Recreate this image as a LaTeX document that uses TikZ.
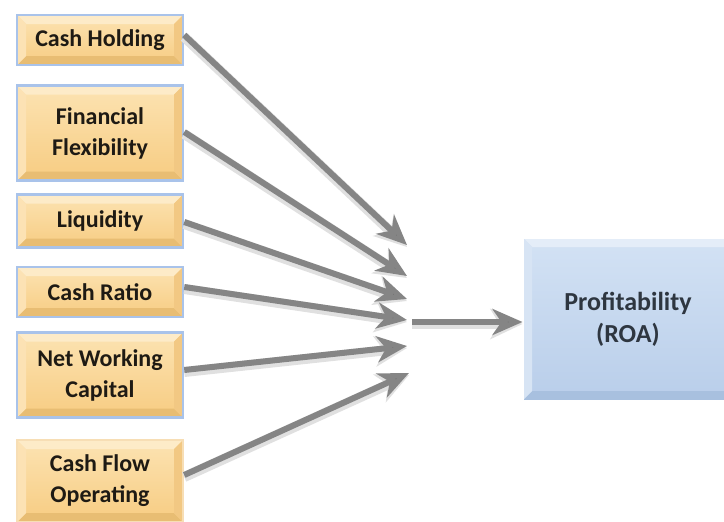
\documentclass[tikz,border=0pt]{standalone}
\usepackage{fontspec}
\setmainfont{Carlito}
\usetikzlibrary{arrows.meta,shadows}
\definecolor{goldmain}{HTML}{FAD597}
\definecolor{goldtop}{HTML}{FCE3B2}
\definecolor{goldbot}{HTML}{F7CC82}
\definecolor{goldlight}{HTML}{FDEBC8}
\definecolor{golddark}{HTML}{E8BD73}
\definecolor{goldside}{HTML}{F2C883}
\definecolor{glow}{HTML}{A9C3EA}
\definecolor{bluemain}{HTML}{C4D7EF}
\definecolor{bluetop}{HTML}{D3E2F4}
\definecolor{bluebot}{HTML}{B9CEEA}
\definecolor{bluelight}{HTML}{E4EDF8}
\definecolor{bluedark}{HTML}{A8C0DF}
\definecolor{blueside}{HTML}{B5CBE7}
\definecolor{txtdark}{HTML}{1E1A14}
\definecolor{txtblue}{HTML}{2E3640}
\definecolor{arrowgray}{HTML}{858585}
\tikzset{
  bevelbox/.style args={#1/#2/#3/#4}{
    path picture={
      \fill[#2] (path picture bounding box.north west) -- (path picture bounding box.north east)
        -- ([shift={(-9pt,-9pt)}]path picture bounding box.north east) -- ([shift={(9pt,-9pt)}]path picture bounding box.north west) -- cycle;
      \fill[#3] (path picture bounding box.south west) -- (path picture bounding box.south east)
        -- ([shift={(-9pt,9pt)}]path picture bounding box.south east) -- ([shift={(9pt,9pt)}]path picture bounding box.south west) -- cycle;
      \fill[#2!60!#1] (path picture bounding box.north west) -- (path picture bounding box.south west)
        -- ([shift={(9pt,9pt)}]path picture bounding box.south west) -- ([shift={(9pt,-9pt)}]path picture bounding box.north west) -- cycle;
      \fill[#4] (path picture bounding box.north east) -- (path picture bounding box.south east)
        -- ([shift={(-9pt,9pt)}]path picture bounding box.south east) -- ([shift={(-9pt,-9pt)}]path picture bounding box.north east) -- cycle;
    }
  },
  factor/.style={draw=glow, line width=2.5pt, top color=goldtop, bottom color=goldbot,
    bevelbox=goldmain/goldlight/golddark/goldside,
    minimum width=166pt, inner sep=0pt, align=center,
    font=\fontsize{24pt}{31pt}\selectfont\bfseries, text=txtdark},
  target/.style={draw=white, line width=1pt, top color=bluetop, bottom color=bluebot,
    bevelbox=bluemain/bluelight/bluedark/blueside,
    minimum width=210pt, minimum height=162pt, inner sep=0pt, align=center,
    font=\fontsize{26pt}{32pt}\selectfont\bfseries, text=txtblue},
  fatarrow/.style={line width=6pt, draw=arrowgray,
    -{Stealth[length=30pt,width=26pt,inset=9pt,fill=arrowgray!85!black]},
    preaction={draw=black!12, line width=10pt, transform canvas={yshift=-2pt}, -{Stealth[length=32pt,width=30pt,inset=9pt]}}}
}
\begin{document}
\begin{tikzpicture}[x=1pt,y=-1pt]
\useasboundingbox (0,0) rectangle (724,522);
\fill[white] (0,0) rectangle (724,522);

\node[factor, minimum height=50pt]  (ch)  at (100,40)  {Cash Holding};
\node[factor, minimum height=95pt]  (ff)  at (100,133) {Financial\\Flexibility};
\node[factor, minimum height=53pt]  (liq) at (100,221) {Liquidity};
\node[factor, minimum height=50pt]  (cr)  at (100,292) {Cash Ratio};
\node[factor, minimum height=85pt]  (nwc) at (100,375) {Net Working\\Capital};
\node[factor, minimum height=82pt, draw=goldside!60!white]  (cfo) at (100,481) {Cash Flow\\Operating};

\node[target] (roa) at (628,319) {Profitability\\(ROA)};

\coordinate (t1) at (407,245);
\coordinate (t2) at (407,276);
\coordinate (t3) at (407,299);
\coordinate (t4) at (407,320);
\coordinate (t5) at (407,346);
\coordinate (t6) at (409,373);
\coordinate (m)  at (412,322);

\draw[fatarrow] (ch.east |- 0,35)   -- (t1);
\draw[fatarrow] (ff.east |- 0,132)  -- (t2);
\draw[fatarrow] (liq.east |- 0,222) -- (t3);
\draw[fatarrow] (cr.east |- 0,287)  -- (t4);
\draw[fatarrow] (nwc.east |- 0,370) -- (t5);
\draw[fatarrow] (cfo.east |- 0,475) -- (t6);
\draw[fatarrow] (m) -- (roa.west |- m);
\end{tikzpicture}
\end{document}
